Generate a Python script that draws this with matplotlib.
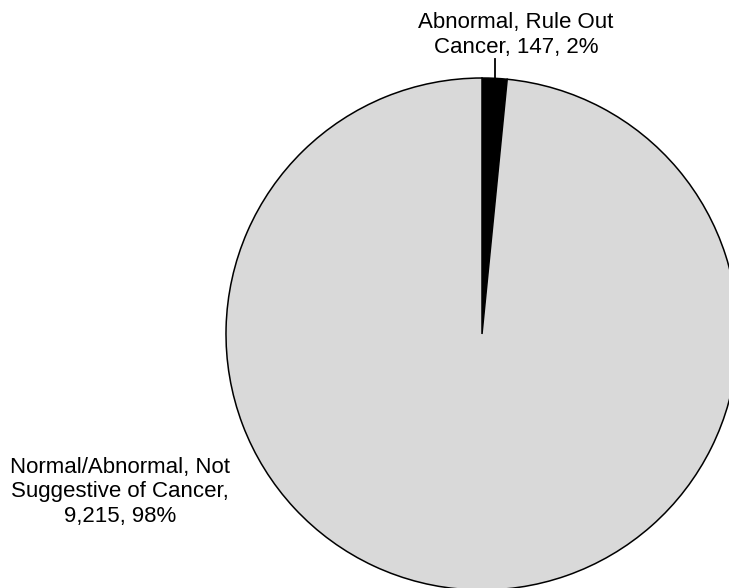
import matplotlib.pyplot as plt
import numpy as np

plt.rcParams['font.family'] = ['Liberation Sans', 'DejaVu Sans']

categorias = ['Abnormal, Rule Out\nCancer', 'Normal/Abnormal, Not\nSuggestive of Cancer,\n']
valores = [147, 9215]
colores = ['#000000', '#D9D9D9']

W, H = 729, 588
fig = plt.figure(figsize=(W / 100, H / 100), dpi=100)
ax = fig.add_axes([0, 0, 1, 1])

cx, cy, r = 482, H - 334, 256
total = sum(valores)
ax.pie(valores, colors=colores, startangle=90, counterclock=False,
       center=(cx, cy), radius=r, frame=True,
       wedgeprops=dict(edgecolor='black', linewidth=1.1))
ax.set_xlim(0, W)
ax.set_ylim(0, H)
ax.set_aspect('equal')
ax.axis('off')

pct = [round(v / total * 100) for v in valores]

# etiqueta del sector pequeno con linea guia
ang = np.deg2rad(90 - valores[0] / total * 360 / 2)
px, py = cx + r * np.cos(ang), cy + r * np.sin(ang)
ax.plot([px, px], [py, H - 59], color='black', lw=1.3)
ax.text(516, H - 35, f'{categorias[0]}, {valores[0]:,}, {pct[0]}%',
        ha='center', va='center', fontsize=16, linespacing=1.22)

ax.text(120, H - 492, f'{categorias[1]}{valores[1]:,}, {pct[1]}%',
        ha='center', va='center', fontsize=16, linespacing=1.22)

fig.savefig('out.png', dpi=100)
